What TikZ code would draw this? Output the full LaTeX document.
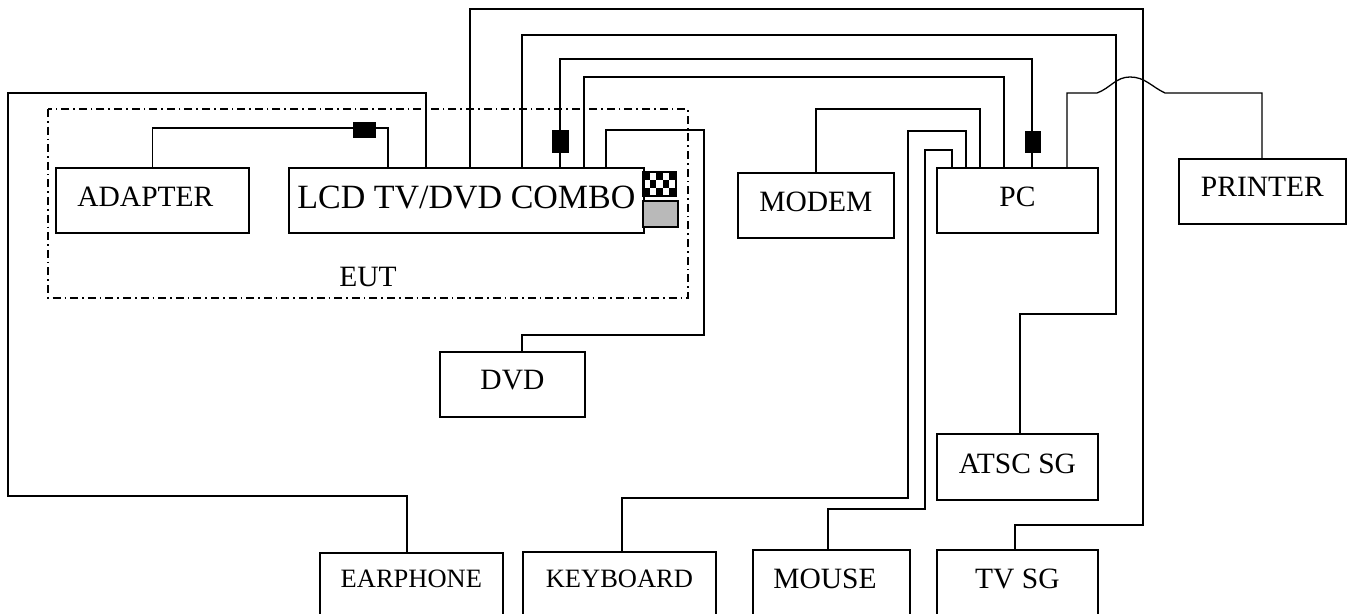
\documentclass[tikz,border=0pt]{standalone}
\usepackage{fontspec}
\setmainfont{Liberation Serif}
\usetikzlibrary{positioning}

\begin{document}
\begin{tikzpicture}[x=0.5pt, y=-0.5pt,
  box/.style={draw, line width=0.9pt, inner sep=0pt, anchor=north west,
    text height=19.5pt, text depth=13pt, font=\fontsize{14.75}{17}\selectfont},
  low/.style={text depth=22pt},
  wire/.style={draw, line width=0.65pt},
  plug/.style={draw, fill=black, line width=0.4pt, inner sep=0pt},
  eut/.style={draw, line width=0.8pt, dash pattern=on 4pt off 2pt on 0.8pt off 2pt}]

  \useasboundingbox (0,0) rectangle (1348,614);

  % EUT area
  \draw [eut] (48,109) rectangle (688,298);
  \node [font=\fontsize{14.75}{17}\selectfont] (eutlabel) at (368,277) {EUT};

  % units
  \node [box, minimum width=96.5pt] (adapter) at (55,167) {\hspace*{-7pt}ADAPTER};
  \node [box, minimum width=177.5pt, text height=20.5pt, text depth=12pt,
    font=\fontsize{17}{20}\selectfont] (lcd) at (288,167) {LCD TV/DVD COMBO};
  \node [box, minimum width=78pt] (modem) at (737,172) {MODEM};
  \node [box, minimum width=80.5pt] (pc) at (936,167) {PC};
  \node [box, minimum width=83.5pt, text height=19pt, text depth=13.5pt] (printer) at (1178,158) {PRINTER};
  \node [box, minimum width=72.5pt, text height=19pt, text depth=13.5pt] (dvd) at (439,351) {DVD};
  \node [box, minimum width=80.5pt, text height=20pt] (atsc) at (936,433) {ATSC SG};
  \node [box, low, minimum width=91.5pt, text height=17.5pt,
    font=\fontsize{13.25}{16}\selectfont] (earphone) at (319,552) {EARPHONE};
  \node [box, low, minimum width=96.5pt, text height=18pt,
    font=\fontsize{13.25}{16}\selectfont] (keyboard) at (522,551) {KEYBOARD};
  \node [box, low, minimum width=78.5pt] (mouse) at (752,549) {\hspace*{-6.5pt}MOUSE};
  \node [box, low, minimum width=80.5pt] (tvsg) at (936,549) {TV SG};

  % ports on the side of the combo
  \foreach \c/\r in {0/0,2/0,4/0,1/1,3/1,0/2,2/2,4/2}
    \fill (643+6.6*\c,172+8*\r) rectangle ++(6.6,8);
  \draw [line width=0.8pt] (643,172) rectangle (676,196);
  \draw [line width=0.8pt, fill=gray!55] (643,201) rectangle (678,227);

  % cables
  \draw [wire] (adapter.north) |- (388,128) -- (388,0 |- lcd.north);
  \draw [wire] (lcd.north -| 426,0) |- (8,93) |- (407,496) -- (407,0 |- earphone.north);
  \draw [wire] (lcd.north -| 470,0) |- (1143,9) |- (1015,525) -- (1015,0 |- tvsg.north);
  \draw [wire] (lcd.north -| 522,0) |- (1116,35) |- (1020,314) -- (1020,0 |- atsc.north);
  \draw [wire] (lcd.north -| 560,0) |- (1032,59) -- (1032,0 |- pc.north);
  \draw [wire] (lcd.north -| 584,0) |- (1004,77) -- (1004,0 |- pc.north);
  \draw [wire] (lcd.north -| 606,0) |- (704,130) |- (522,335) -- (522,0 |- dvd.north);
  \draw [wire] (modem.north -| 816,0) |- (980,109) -- (980,0 |- pc.north);
  \draw [wire] (keyboard.north -| 622,0) |- (908,498) |- (966,131) -- (966,0 |- pc.north);
  \draw [wire] (mouse.north -| 828,0) |- (925,509) |- (952,150) -- (952,0 |- pc.north);
  \draw [wire] (pc.north -| 1067,0) |- (1097,93)
    to[out=20,in=180] (1130,77) to[out=0,in=155] (1165,93)
    -| (1262,0 |- printer.north);

  % cores (ferrite) on cables
  \node [plug, minimum width=11pt, minimum height=7.5pt] (core1) at (364,129.5) {};
  \node [plug, minimum width=8pt, minimum height=11pt] (core2) at (560,141) {};
  \node [plug, minimum width=7.5pt, minimum height=10.5pt] (core3) at (1032.5,141.5) {};
\end{tikzpicture}
\end{document}
